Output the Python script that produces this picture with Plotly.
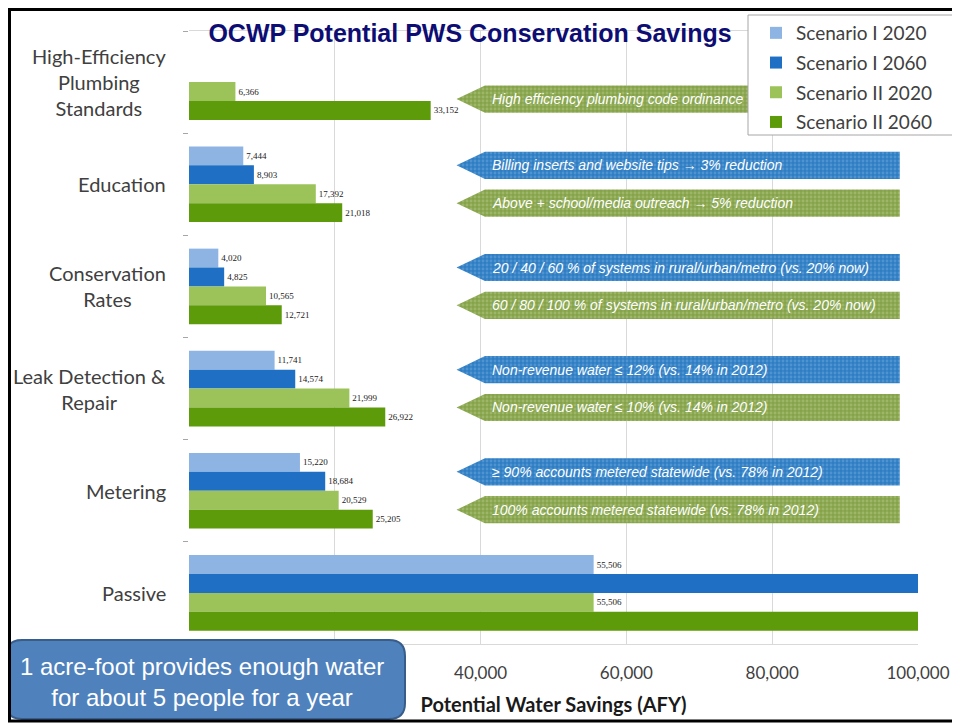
import plotly.graph_objects as go

# --- data -----------------------------------------------------------------
categories = [
    "High-Efficiency<br>Plumbing<br>Standards",
    "Education",
    "Conservation<br>Rates",
    "Leak Detection &<br>Repair",
    "Metering",
    "Passive",
]
series_names = ["Scenario I 2020", "Scenario I 2060", "Scenario II 2020", "Scenario II 2060"]
s1_2020 = [None, 7444, 4020, 11741, 15220, 55506]
s1_2060 = [None, 8903, 4825, 14574, 18684, 113000]   # passive 2060 runs off the scale
s2_2020 = [6366, 17392, 10565, 21999, 20529, 55506]
s2_2060 = [33152, 21018, 12721, 26922, 25205, 113000]
x_ticks = [0, 20000, 40000, 60000, 80000, 100000]
hidden_ticks = [0, 20000]   # covered by the callout box in the original

# banner notes: (category index, scenario group, text)
banner_cat = [0, 1, 1, 2, 2, 3, 3, 4, 4]
banner_group = ["II", "I", "II", "I", "II", "I", "II", "I", "II"]
banner_text = [
    "High efficiency plumbing code ordinance",
    "Billing inserts and website tips → 3% reduction",
    "Above + school/media outreach → 5% reduction",
    "20 / 40 / 60 % of systems in rural/urban/metro (vs. 20% now)",
    "60 / 80 / 100 % of systems in rural/urban/metro (vs. 20% now)",
    "Non-revenue water ≤ 12% (vs. 14% in 2012)",
    "Non-revenue water ≤ 10% (vs. 14% in 2012)",
    "≥ 90% accounts metered statewide (vs. 78% in 2012)",
    "100% accounts metered statewide (vs. 78% in 2012)",
]

# --- style ----------------------------------------------------------------
X_MAX = 100000
colors = ["#8EB4E3", "#1F6FC5", "#9BC35A", "#5E9B0A"]
BANNER_COL = {"I": ("#2F7EC4", "#6FA8DC"), "II": ("#86A34A", "#B3C98A")}
GRAY = "#404040"
ypos = list(range(len(categories)))

# the page body adds an 8px margin, so the figure is drawn 8px in from the corner
OFF = 8
W, H = 960 - OFF, 723 - OFF
# plot area in page pixels
L, R, T, B = 189, 918, 31, 644


def px_x(p):
    return (p - L) / (R - L)


def px_y(p):
    return (B - p) / (B - T)


fig = go.Figure()

for name, vals, col in zip(series_names, [s1_2020, s1_2060, s2_2020, s2_2060], colors):
    fig.add_trace(go.Bar(
        y=ypos, x=vals, name=name, orientation="h",
        marker=dict(color=col, line=dict(width=0)),
        text=[f"{v:,}" if v is not None and v < X_MAX else "" for v in vals],
        textposition="outside",
        textfont=dict(family="Liberation Serif", size=9, color="#222222"),
        legendgroup=name,
    ))

# arrow banners
bar_w = (1 - 0.26) / 4
for cat, grp, txt in zip(banner_cat, banner_group, banner_text):
    yc = cat + (-bar_w if grp == "I" else bar_w * (0.9 if cat == 0 else 1))
    h = 0.133
    tip, body, end = 36700, 40600, (78500 if cat == 0 else 97500)
    base, dots = BANNER_COL[grp]
    fig.add_trace(go.Scatter(
        x=[tip, body, end, end, body, tip],
        y=[yc, yc - h, yc - h, yc + h, yc + h, yc],
        mode="lines", fill="toself", line=dict(width=0),
        fillcolor=base,
        fillpattern=dict(shape=".", bgcolor=base, fgcolor=dots, size=4, solidity=0.4),
        hoverinfo="skip", showlegend=False,
    ))
    fig.add_annotation(
        x=41300, y=yc, xref="x", yref="y", text=f"<i>{txt}</i>",
        showarrow=False, xanchor="left", yanchor="middle",
        font=dict(family="Arial, Liberation Sans", size=14, color="white"),
    )

# category labels, centred multi-line like the original
for yp, cat in zip(ypos, categories):
    fig.add_annotation(
        x=0, y=yp, xref="paper", yref="y", xshift=-21, yshift=0, text=cat,
        showarrow=False, xanchor="right", yanchor="middle", align="center",
        font=dict(family="Lato", size=20, color=GRAY),
    )

# legend frame (drawn separately so it can hug the entries like the original)
fig.add_shape(type="rect", xref="paper", yref="paper",
              x0=px_x(748), x1=px_x(955), y0=px_y(135), y1=px_y(15),
              fillcolor="white", line=dict(color="#A6A6A6", width=1), layer="above")

# callout box
x0, x1, y0, y1, r = 6, 405, 640, 719, 16
path = (
    f"M {px_x(x0 + r)},{px_y(y0)} L {px_x(x1 - r)},{px_y(y0)} "
    f"Q {px_x(x1)},{px_y(y0)} {px_x(x1)},{px_y(y0 + r)} "
    f"L {px_x(x1)},{px_y(y1 - r)} Q {px_x(x1)},{px_y(y1)} {px_x(x1 - r)},{px_y(y1)} "
    f"L {px_x(x0 + r)},{px_y(y1)} Q {px_x(x0)},{px_y(y1)} {px_x(x0)},{px_y(y1 - r)} "
    f"L {px_x(x0)},{px_y(y0 + r)} Q {px_x(x0)},{px_y(y0)} {px_x(x0 + r)},{px_y(y0)} Z"
)
fig.add_shape(type="path", path=path, xref="paper", yref="paper",
              fillcolor="#4F81BD", line=dict(color="#385D8A", width=2), layer="above")
fig.add_annotation(
    x=px_x(202), y=px_y(682), xref="paper", yref="paper",
    text="1 acre-foot provides enough water<br>for about 5 people for a year",
    showarrow=False, xanchor="center", yanchor="middle", align="center",
    font=dict(family="Arial, Liberation Sans", size=24, color="white"),
)

# slide frame
fig.add_shape(type="rect", xref="paper", yref="paper",
              x0=px_x(OFF + 1.5), x1=px_x(970), y0=px_y(OFF + 1.5), y1=px_y(721),
              line=dict(color="black", width=3), layer="above")

fig.update_layout(
    width=W, height=H,
    margin=dict(l=L - OFF, r=W - (R - OFF), t=T - OFF, b=H - (B - OFF), autoexpand=False),
    paper_bgcolor="white", plot_bgcolor="white",
    barmode="group", bargap=0.26, bargroupgap=0,
    title=dict(
        text="<b>OCWP Potential PWS Conservation Savings</b>",
        x=(470 - OFF) / W, xanchor="center", y=1 - (33 - OFF) / H, yanchor="middle",
        font=dict(family="Arial, Liberation Sans", size=25, color="#0D0D73"),
    ),
    legend=dict(
        x=px_x(756), y=px_y(14), xanchor="left", yanchor="top",
        bgcolor="rgba(0,0,0,0)", borderwidth=0,
        font=dict(family="Lato", size=19, color=GRAY),
        traceorder="grouped", tracegroupgap=2, itemwidth=30,
    ),
    xaxis=dict(
        range=[0, X_MAX], tickvals=x_ticks,
        ticktext=["" if t in hidden_ticks else f"{t:,}" for t in x_ticks],
        showgrid=True, gridcolor="#D9D9D9", zeroline=False,
        showline=True, linecolor="#D9D9D9", mirror=True,
        ticks="", ticklabelstandoff=14,
        tickfont=dict(family="Lato", size=17, color=GRAY),
        title=dict(text="<b>Potential Water Savings (AFY)</b>", standoff=15,
                   font=dict(family="Lato", size=20, color="#1A1A1A")),
    ),
    yaxis=dict(
        range=[len(categories) - 0.5, -0.5], tickvals=ypos, showticklabels=False,
        showgrid=False, zeroline=False, ticks="",
        minor=dict(ticks="outside", tickmode="linear", tick0=-0.5, dtick=1,
                   ticklen=5, tickcolor="#A6A6A6", showgrid=False),
    ),
)

fig.write_html("out.html")
